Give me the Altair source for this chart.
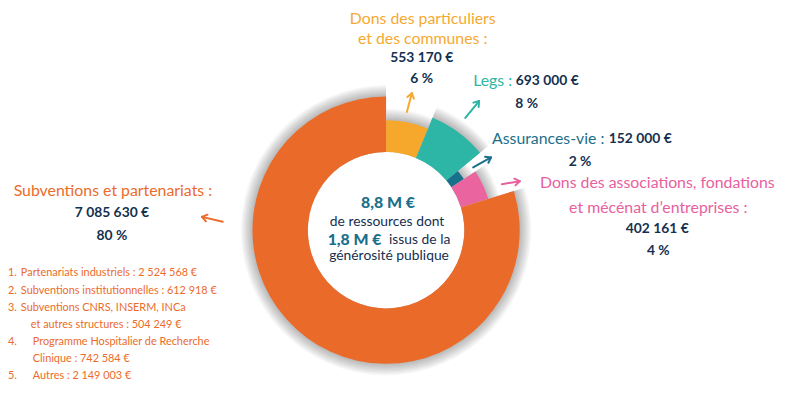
import math
import altair as alt
import pandas as pd

# ---------------- data ----------------
categories = [
    "Dons des particuliers et des communes",
    "Legs",
    "Assurances-vie",
    "Dons des associations, fondations et mécénat d’entreprises",
    "Subventions et partenariats",
]
values = [553170, 693000, 152000, 402161, 7085630]
percents = [6, 8, 2, 4, 80]

sub_numbers = ["1.", "2.", "3.", "", "4.", "", "5."]
sub_lines = [
    "Partenariats industriels :  2 524 568 €",
    "Subventions institutionnelles : 612 918 €",
    "Subventions CNRS, INSERM, INCa",
    "et autres structures : 504 249 €",
    "Programme Hospitalier de Recherche",
    "Clinique : 742 584 €",
    "Autres : 2 149 003 €",
]

# ---------------- styles ----------------
colors = ["#F6A82D", "#2DB6A6", "#17708C", "#EA64A0", "#EA6A2A"]
label_colors = ["#F5A931", "#2DB5A5", "#1B6F8A", "#E8609E", "#EB6B2B"]
outer_radius = [111, 123, 94, 108, 135]
NAVY = "#15304F"
FONT = "Lato"
OFF = 8  # page margin
CX, CY = 390 - OFF, 230.5 - OFF
INNER = 79
TOTAL = sum(values)


def fmt(v):
    return f"{v:,}".replace(",", " ") + " €"


df = pd.DataFrame({
    "cat": categories,
    "value": values,
    "idx": list(range(len(categories))),
    "outer": outer_radius,
})


def ring_base():
    return (
        alt.Chart(df)
        .transform_window(cum="sum(value)", sort=[alt.SortField("idx")], frame=[None, 0])
        .transform_calculate(start="datum.cum - datum.value")
        .encode(
            theta=alt.Theta("start:Q", scale=alt.Scale(domain=[0, TOTAL], range=[0, 2 * math.pi])),
            theta2="cum:Q",
        )
    )


layers = []
# soft shadow
for k in range(1, 10):
    layers.append(
        ring_base()
        .transform_calculate(sh=f"datum.outer + {k * 1.3}")
        .mark_arc(innerRadius=INNER, x=CX, y=CY, color="#000000", opacity=0.03)
        .encode(radius=alt.Radius("sh:Q", scale=None))
    )

arcs = (
    ring_base()
    .mark_arc(innerRadius=INNER, x=CX, y=CY)
    .encode(
        radius=alt.Radius("outer:Q", scale=None),
        color=alt.Color("cat:N", scale=alt.Scale(domain=categories, range=colors), legend=None),
    )
)
layers.append(arcs)


def txt(text, x, y, color, size, weight="normal", align="center"):
    return alt.Chart(pd.DataFrame({"t": [text]})).mark_text(
        x=x - OFF, y=y - OFF, align=align, baseline="middle",
        font=FONT, fontSize=size, fontWeight=weight, color=color,
    ).encode(text="t:N")


LBL = 16
NUM = 14
# Dons des particuliers
layers += [
    txt("Dons des particuliers", 427, 17, label_colors[0], LBL),
    txt("et des communes :", 427, 37, label_colors[0], LBL),
    txt(fmt(values[0]), 426, 57, NAVY, NUM, "bold"),
    txt(f"{percents[0]} %", 426, 78, NAVY, NUM, "bold"),
]
# Legs
layers += [
    txt("Legs :", 478, 80, label_colors[1], LBL, align="left"),
    txt(fmt(values[1]), 521, 80, NAVY, NUM, "bold", align="left"),
    txt(f"{percents[1]} %", 532, 103, NAVY, NUM, "bold"),
]
# Assurances-vie
layers += [
    txt("Assurances-vie :", 497, 138, label_colors[2], LBL, align="left"),
    txt(fmt(values[2]), 615, 138, NAVY, NUM, "bold", align="left"),
    txt(f"{percents[2]} %", 586, 162, NAVY, NUM, "bold"),
]
# Dons des associations
layers += [
    txt("Dons des associations, fondations", 664, 183, label_colors[3], LBL),
    txt("et mécénat d’entreprises :", 665, 208, label_colors[3], LBL),
    txt(fmt(values[3]), 664, 229, NAVY, NUM, "bold"),
    txt(f"{percents[3]} %", 665, 252, NAVY, NUM, "bold"),
]
# Subventions
layers += [
    txt("Subventions et partenariats :", 114, 191, label_colors[4], LBL),
    txt(fmt(values[4]), 113, 213, NAVY, NUM, "bold"),
    txt(f"{percents[4]} %", 113, 236, NAVY, NUM, "bold"),
]
# sub list
sub_y = [274, 292, 309, 326, 343, 361, 378]
sub_x = [21, 21, 21, 31, 33, 33, 33]
for num, line, y, x in zip(sub_numbers, sub_lines, sub_y, sub_x):
    if num:
        layers.append(txt(num, 8, y, label_colors[4], 11, align="left"))
    layers.append(txt(line, x, y, label_colors[4], 11, align="left"))

# centre text
CENTER_C = "#1A6F8B"
layers += [
    txt("8,8 M €", 392, 203, CENTER_C, 16, 900),
    txt("de ressources dont", 391, 222, NAVY, 14),
    txt("1,8 M €", 331, 240, CENTER_C, 16, 900, align="left"),
    txt("issus de la", 393, 240, NAVY, 14, align="left"),
    txt("générosité publique", 393, 257, NAVY, 14),
]

# arrows (annotation)
arrows = [
    ((411, 111), (416, 92), label_colors[0]),
    ((470, 117), (484, 100), label_colors[1]),
    ((478, 167), (496, 157), label_colors[2]),
    ((507, 184), (525, 181), label_colors[3]),
    ((225, 222), (204, 217), label_colors[4]),
]


def rule(p, q, color):
    return alt.Chart(pd.DataFrame({"a": [0]})).mark_rule(
        color=color, strokeWidth=2, strokeCap="round"
    ).encode(
        x=alt.value(p[0] - OFF), y=alt.value(p[1] - OFF),
        x2=alt.value(q[0] - OFF), y2=alt.value(q[1] - OFF),
    )


for tail, tip, c in arrows:
    layers.append(rule(tail, tip, c))
    dx, dy = tip[0] - tail[0], tip[1] - tail[1]
    L = math.hypot(dx, dy)
    ux, uy = dx / L, dy / L
    for ang in (35, -35):
        a = math.radians(ang)
        rx = ux * math.cos(a) - uy * math.sin(a)
        ry = ux * math.sin(a) + uy * math.cos(a)
        end = (tip[0] - 6 * rx, tip[1] - 6 * ry)
        layers.append(rule(tip, end, c))

chart = alt.layer(*layers).properties(
    width=780, height=389, autosize=alt.AutoSizeParams(type="none"), padding=0
).configure_view(stroke=None)

chart.save("out.html", embed_options={"renderer": "svg", "actions": False})
